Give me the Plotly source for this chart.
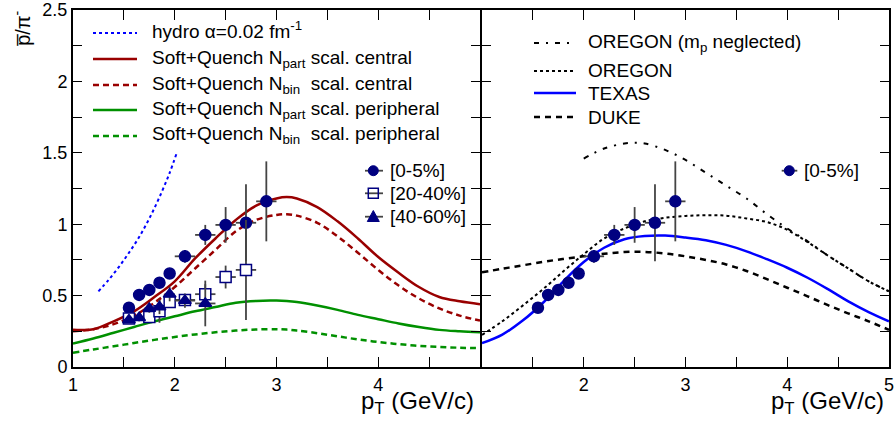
import plotly.graph_objects as go

# ---------------- data ----------------
# model curves, left panel
pt_grid = [1.0, 1.2, 1.4, 1.6, 1.8, 2.0, 2.2, 2.4, 2.6, 2.8, 3.0, 3.1, 3.2, 3.4, 3.6, 3.8, 4.0, 4.2, 4.4, 4.6, 4.8, 5.0]
npart_central = [0.26, 0.265, 0.32, 0.39, 0.49, 0.60, 0.76, 0.90, 1.03, 1.13, 1.18, 1.19, 1.18, 1.12, 1.02, 0.90, 0.77, 0.66, 0.56, 0.49, 0.46, 0.44]
nbin_central = [0.25, 0.265, 0.30, 0.36, 0.45, 0.56, 0.69, 0.82, 0.95, 1.03, 1.065, 1.07, 1.06, 1.01, 0.915, 0.80, 0.68, 0.57, 0.48, 0.41, 0.36, 0.325]
npart_periph = [0.165, 0.20, 0.24, 0.28, 0.32, 0.355, 0.39, 0.42, 0.45, 0.463, 0.465, 0.462, 0.455, 0.43, 0.40, 0.365, 0.335, 0.305, 0.28, 0.26, 0.25, 0.243]
nbin_periph = [0.10, 0.123, 0.145, 0.168, 0.19, 0.21, 0.228, 0.243, 0.255, 0.263, 0.265, 0.262, 0.255, 0.237, 0.215, 0.193, 0.175, 0.16, 0.148, 0.14, 0.135, 0.132]

hydro_pt = [1.25, 1.35, 1.45, 1.55, 1.65, 1.75, 1.85, 1.95, 2.02]
hydro_val = [0.53, 0.61, 0.70, 0.80, 0.91, 1.04, 1.19, 1.36, 1.50]

# model curves, right panel
pt_grid_r = [1.0, 1.2, 1.4, 1.6, 1.8, 2.0, 2.2, 2.4, 2.6, 2.8, 3.0, 3.2, 3.4, 3.6, 3.8, 4.0, 4.2, 4.4, 4.6, 4.8, 5.0]
oregon = [0.225, 0.32, 0.43, 0.545, 0.67, 0.79, 0.90, 0.97, 1.02, 1.045, 1.058, 1.063, 1.06, 1.04, 1.015, 0.96, 0.875, 0.78, 0.69, 0.60, 0.53]
texas = [0.167, 0.227, 0.325, 0.45, 0.60, 0.735, 0.835, 0.895, 0.917, 0.92, 0.907, 0.888, 0.855, 0.81, 0.755, 0.695, 0.625, 0.545, 0.46, 0.385, 0.32]
duke = [0.663, 0.688, 0.712, 0.736, 0.757, 0.775, 0.793, 0.805, 0.806, 0.795, 0.775, 0.75, 0.718, 0.672, 0.615, 0.555, 0.495, 0.433, 0.375, 0.32, 0.26]
oregon_mp_pt = [2.0, 2.2, 2.4, 2.5, 2.6, 2.8, 3.0, 3.2, 3.4, 3.6, 3.8, 4.0, 4.2, 4.4, 4.6, 4.8, 5.0]
oregon_mp = [1.46, 1.53, 1.565, 1.57, 1.565, 1.52, 1.45, 1.36, 1.27, 1.18, 1.07, 0.97, 0.88, 0.78, 0.69, 0.60, 0.53]

# measured points
c0_pt = [1.55, 1.65, 1.75, 1.85, 1.95, 2.1, 2.3, 2.5, 2.7, 2.9]
c0_val = [0.415, 0.505, 0.54, 0.59, 0.655, 0.775, 0.925, 0.995, 1.01, 1.16]
c0_yerr = [0.02, 0.02, 0.02, 0.025, 0.03, 0.045, 0.07, 0.125, 0.27, 0.28]
c0_xerr = [0.05, 0.05, 0.05, 0.05, 0.05, 0.1, 0.1, 0.1, 0.1, 0.1]

c20_pt = [1.55, 1.75, 1.85, 1.95, 2.1, 2.3, 2.5, 2.7]
c20_val = [0.34, 0.35, 0.39, 0.455, 0.47, 0.51, 0.63, 0.68]
c20_yerr = [0.02, 0.025, 0.08, 0.04, 0.04, 0.07, 0.08, 0.35]
c20_xerr = [0.05, 0.05, 0.05, 0.05, 0.1, 0.1, 0.1, 0.1]

c40_pt = [1.55, 1.65, 1.75, 1.85, 1.95, 2.1, 2.3]
c40_val = [0.33, 0.345, 0.41, 0.42, 0.51, 0.465, 0.445]
c40_yerr = [0.02, 0.025, 0.03, 0.05, 0.05, 0.05, 0.16]
c40_xerr = [0.05, 0.05, 0.05, 0.05, 0.05, 0.1, 0.1]

x_ticks = [1, 1.5, 2, 2.5, 3, 3.5, 4, 4.5, 5]
x_text_left = ['1', '', '2', '', '3', '', '4', '', '']
x_text_right = ['', '', '2', '', '3', '', '4', '', '5']
y_ticks = [0, 0.25, 0.5, 0.75, 1, 1.25, 1.5, 1.75, 2, 2.25, 2.5]
y_text = ['0', '', '0.5', '', '1', '', '1.5', '', '2', '', '2.5']

# ---------------- styles ----------------
FONT = "Liberation Sans, Arial, sans-serif"
NAVY = "#000080"
DRED = "#990000"
DGREEN = "#009000"
BLUE = "#0000ff"
ERRC = "#444444"

W, H = 896, 431
ML, MR, MT, MB = 73, 7, 10, 64
PW = W - ML - MR  # 816
PH = H - MT - MB  # 357


def px(sx):  # pixel x -> paper x
    return (sx - ML) / PW


def py(sy):  # pixel y -> paper y
    return 1 - (sy - MT) / PH


fig = go.Figure()


def curve(x, y, color, dash, width, xa="x", ya="y"):
    fig.add_trace(go.Scatter(x=x, y=y, mode="lines", showlegend=False, hoverinfo="skip",
                             line=dict(color=color, dash=dash, width=width, shape="spline"),
                             xaxis=xa, yaxis=ya))


DASH = "6px,4px"
DASHDOT = "5px,7px,2px,7px"
DUKEDASH = "6px,5px"

curve(hydro_pt, hydro_val, BLUE, "dot", 2)
curve(pt_grid, npart_central, DRED, "solid", 2.5)
curve(pt_grid, nbin_central, DRED, DASH, 2.5)
curve(pt_grid, npart_periph, DGREEN, "solid", 2.5)
curve(pt_grid, nbin_periph, DGREEN, DASH, 2.5)

curve(oregon_mp_pt, oregon_mp, "black", DASHDOT, 2, "x2", "y2")
curve(pt_grid_r, oregon, "black", "dot", 2, "x2", "y2")
curve(pt_grid_r, texas, BLUE, "solid", 2.5, "x2", "y2")
curve(pt_grid_r, duke, "black", DUKEDASH, 2.5, "x2", "y2")


def points(x, y, ex, ey, symbol, fill, xa="x", ya="y"):
    fig.add_trace(go.Scatter(
        x=x, y=y, mode="markers", showlegend=False, xaxis=xa, yaxis=ya,
        marker=dict(symbol=symbol, size=11, color=fill, line=dict(color=NAVY, width=1.5)),
        error_y=dict(type="data", array=ey, visible=True, color=ERRC, thickness=1.8, width=0),
        error_x=dict(type="data", array=ex, visible=True, color=ERRC, thickness=1.8, width=0)))


points(c0_pt, c0_val, c0_xerr, c0_yerr, "circle", NAVY)
points(c20_pt, c20_val, c20_xerr, c20_yerr, "square", "white")
points(c40_pt, c40_val, c40_xerr, c40_yerr, "triangle-up", NAVY)
points(c0_pt, c0_val, c0_xerr, c0_yerr, "circle", NAVY, "x2", "y2")

axis_common = dict(range=[1, 5], showline=True, linecolor="black", linewidth=2, mirror="ticks",
                   ticks="inside", ticklen=10, tickwidth=1.3, tickcolor="black", automargin=False,
                   showgrid=False, zeroline=False, tickvals=x_ticks,
                   tickfont=dict(family=FONT, size=18, color="black"))
yaxis_common = dict(range=[0, 2.5], showline=True, linecolor="black", linewidth=2, mirror="ticks",
                    ticks="inside", ticklen=9, tickwidth=1.3, tickcolor="black", automargin=False,
                    showgrid=False, zeroline=False, tickvals=y_ticks,
                    tickfont=dict(family=FONT, size=18, color="black"))

half = 1 / PW
fig.update_layout(
    width=W, height=H,
    margin=dict(l=ML, r=MR, t=MT, b=MB, autoexpand=False),
    paper_bgcolor="white", plot_bgcolor="white",
    showlegend=False,
    xaxis=dict(domain=[0, 0.5 - half], anchor="y", ticktext=x_text_left, **axis_common),
    xaxis2=dict(domain=[0.5 + half, 1], anchor="y2", ticktext=x_text_right, **axis_common),
    yaxis=dict(domain=[0, 1], anchor="x", ticktext=y_text, ticklabeloverflow="allow", **yaxis_common),
    yaxis2=dict(domain=[0, 1], anchor="x2", showticklabels=False, **yaxis_common),
)


# ---------------- legends (drawn as shapes + text) ----------------
def text(sx, sy, s, size=19, anchor="left"):
    fig.add_annotation(text=s, xref="paper", yref="paper", x=px(sx), y=py(sy),
                       xanchor=anchor, yanchor="middle", showarrow=False,
                       font=dict(family=FONT, size=size, color="black"))


def sample(x0, x1, sy, color, dash, width):
    fig.add_shape(type="line", xref="paper", yref="paper", x0=px(x0), x1=px(x1), y0=py(sy), y1=py(sy),
                  line=dict(color=color, dash=dash, width=width))


left_legend = [
    (33, 30, "hydro α=0.02 fm<sup>-1</sup>", BLUE, "dot", 2),
    (59, 59, "Soft+Quench N<sub>part</sub> scal. central", DRED, "solid", 2.5),
    (85, 84.5, "Soft+Quench N<sub>bin</sub>  scal. central", DRED, DASH, 2.5),
    (110, 110, "Soft+Quench N<sub>part</sub> scal. peripheral", DGREEN, "solid", 2.5),
    (136, 135, "Soft+Quench N<sub>bin</sub>  scal. peripheral", DGREEN, DASH, 2.5),
]
for ly, ty, s, c, d, w in left_legend:
    sample(93, 137, ly, c, d, w)
    text(150, ty, s)

right_legend = [
    (43, 42.5, "OREGON (m<sub>p</sub> neglected)", "black", DASHDOT, 2),
    (71, 70.7, "OREGON", "black", "dot", 2),
    (93, 93, "TEXAS", BLUE, "solid", 2.5),
    (117, 117, "DUKE", "black", DUKEDASH, 2.5),
]
for ly, ty, s, c, d, w in right_legend:
    sample(534, 576, ly, c, d, w)
    text(586, ty, s)


def err_line(x0, x1, sy):
    fig.add_shape(type="line", xref="paper", yref="paper", x0=px(x0), x1=px(x1), y0=py(sy), y1=py(sy),
                  line=dict(color=ERRC, width=1.8))


def dot(cx, cy, r=5):
    fig.add_shape(type="circle", xref="paper", yref="paper", x0=px(cx - r), x1=px(cx + r),
                  y0=py(cy + r), y1=py(cy - r), fillcolor=NAVY, line=dict(color=NAVY, width=1))


# left marker legend
err_line(365, 383, 170.7)
dot(373.3, 170.7)
text(388, 170.7, "[0-5%]")
err_line(365, 383, 193.3)
fig.add_shape(type="rect", xref="paper", yref="paper", x0=px(368.3), x1=px(378.3),
              y0=py(198.3), y1=py(188.3), line=dict(color=NAVY, width=1.5))
text(388, 193.3, "[20-40%]")
err_line(365, 383, 216.7)
fig.add_shape(type="path", xref="paper", yref="paper",
              path=f"M {px(367.3)},{py(221.5)} L {px(379.3)},{py(221.5)} L {px(373.3)},{py(210.5)} Z",
              fillcolor=NAVY, line=dict(color=NAVY, width=1))
text(388, 216.7, "[40-60%]")

# right marker legend
err_line(781.7, 797.3, 170.7)
dot(789.3, 170.7)
text(801.7, 170.7, "[0-5%]")

# axis titles
fig.add_annotation(text="p\u0305/π<sup>-</sup>", textangle=-90, xref="paper", yref="paper",
                   x=px(21), y=py(28), xanchor="center", yanchor="middle",
                   showarrow=False, font=dict(family=FONT, size=20, color="black"))
for sx in [476, 886]:
    fig.add_annotation(text="p<sub>T</sub> (GeV/c)", xref="paper", yref="paper",
                       x=px(sx), y=py(402), xanchor="right", yanchor="middle",
                       showarrow=False, font=dict(family=FONT, size=24, color="black"))

fig.write_html("out.html", config={"displayModeBar": False},
               post_script="document.body.style.margin='0px';")
